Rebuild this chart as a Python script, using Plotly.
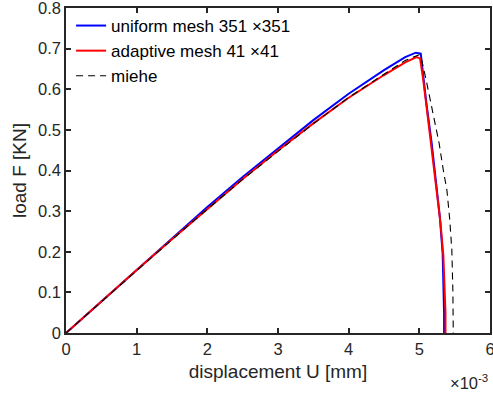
import plotly.graph_objects as go

# displacement in units of 1e-3 mm, load in KN
uniform_x = [0, 0.5, 1.0, 1.5, 2.0, 2.5, 3.0, 3.5, 4.0, 4.5, 4.8, 4.95, 5.02, 5.05, 5.10, 5.175, 5.23, 5.29, 5.33, 5.345, 5.35, 5.35]
uniform_y = [0, 0.078, 0.156, 0.233, 0.310, 0.384, 0.455, 0.524, 0.589, 0.647, 0.679, 0.690, 0.688, 0.640, 0.565, 0.467, 0.380, 0.286, 0.196, 0.120, 0.050, 0]

adaptive_x = [0, 0.5, 1.0, 1.5, 2.0, 2.5, 3.0, 3.5, 4.0, 4.5, 4.8, 4.96, 5.01, 5.05, 5.10, 5.15, 5.20, 5.25, 5.30, 5.34, 5.36, 5.37, 5.37]
adaptive_y = [0, 0.078, 0.155, 0.231, 0.306, 0.379, 0.449, 0.516, 0.579, 0.635, 0.666, 0.679, 0.676, 0.630, 0.560, 0.490, 0.420, 0.350, 0.270, 0.190, 0.120, 0.050, 0]

miehe_x = [0, 0.5, 1.0, 1.5, 2.0, 2.5, 3.0, 3.5, 4.0, 4.5, 4.8, 5.0, 5.03, 5.10, 5.20, 5.28, 5.34, 5.39, 5.43, 5.46, 5.475, 5.48]
miehe_y = [0, 0.077, 0.154, 0.230, 0.305, 0.378, 0.447, 0.515, 0.580, 0.638, 0.671, 0.685, 0.675, 0.620, 0.535, 0.467, 0.400, 0.352, 0.280, 0.204, 0.100, 0]

x_ticks = [0, 1, 2, 3, 4, 5, 6]
y_ticks = [0, 0.1, 0.2, 0.3, 0.4, 0.5, 0.6, 0.7, 0.8]

FONT = "Liberation Sans, Arial, Helvetica, sans-serif"
AX = "#262626"

fig = go.Figure()
fig.add_trace(go.Scatter(x=uniform_x, y=uniform_y, mode="lines", name="uniform mesh 351 \u00d7351",
                         line=dict(color="#0000ff", width=2)))
fig.add_trace(go.Scatter(x=adaptive_x, y=adaptive_y, mode="lines", name="adaptive mesh 41 \u00d741",
                         line=dict(color="#ff0000", width=2)))
fig.add_trace(go.Scatter(x=miehe_x, y=miehe_y, mode="lines", name="miehe",
                         line=dict(color="#000000", width=1.1, dash="7px,5px")))

axis_common = dict(showgrid=False, zeroline=False, showline=True, linecolor=AX, linewidth=1.5,
                   mirror="ticks", ticks="inside", ticklen=5, tickwidth=1.5, tickcolor=AX,
                   automargin=False, ticklabeloverflow="allow",
                   tickfont=dict(family=FONT, size=16.5, color=AX))

fig.update_xaxes(range=[0, 6], tickvals=x_ticks, ticktext=[str(v) for v in x_ticks],
                 title=dict(text="displacement U [mm]", font=dict(family=FONT, size=19, color=AX), standoff=8),
                 **axis_common)
fig.update_yaxes(range=[0, 0.8], tickvals=y_ticks, ticktext=[("0" if v == 0 else f"{v:.1f}") for v in y_ticks],
                 title=dict(text="load F [KN]", font=dict(family=FONT, size=19, color=AX), standoff=6),
                 **axis_common)

fig.add_annotation(text="\u00d710<sup>-3</sup>", xref="paper", yref="paper", x=1.0, y=-0.115,
                   xanchor="right", yanchor="top", showarrow=False,
                   font=dict(family=FONT, size=16.5, color=AX))

fig.update_layout(
    width=493, height=393,
    margin=dict(l=66, r=3, t=8, b=60),
    plot_bgcolor="white", paper_bgcolor="white",
    font=dict(family=FONT, color=AX),
    legend=dict(x=0.012, y=1.0, xanchor="left", yanchor="top", bgcolor="rgba(255,255,255,0)",
                font=dict(family=FONT, size=17, color="#000000"), tracegroupgap=0),
    showlegend=True,
)

fig.write_html("out.html")
